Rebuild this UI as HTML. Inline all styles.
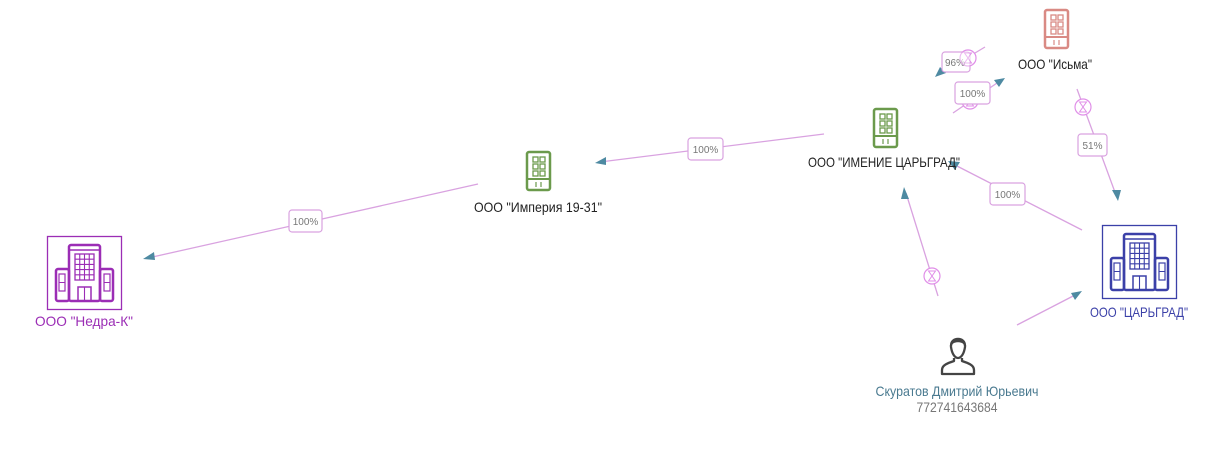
<!DOCTYPE html>
<html><head><meta charset="utf-8">
<style>
html,body{margin:0;padding:0;background:#fff;}
svg{display:block;font-family:"Liberation Sans","Noto Sans CJK SC",sans-serif;}
</style></head>
<body>
<svg width="1231" height="454" viewBox="0 0 1231 454" xmlns="http://www.w3.org/2000/svg">
<defs>
  <g id="sb">
    <rect x="1" y="1" width="23" height="38" rx="2" fill="none" stroke-width="2.5"/>
    <rect x="7" y="6" width="5" height="5" fill="none" stroke-width="1.3"/>
    <rect x="14" y="6" width="5" height="5" fill="none" stroke-width="1.3"/>
    <rect x="7" y="13" width="5" height="5" fill="none" stroke-width="1.3"/>
    <rect x="14" y="13" width="5" height="5" fill="none" stroke-width="1.3"/>
    <rect x="7" y="20" width="5" height="5" fill="none" stroke-width="1.3"/>
    <rect x="14" y="20" width="5" height="5" fill="none" stroke-width="1.3"/>
    <line x1="1" y1="28" x2="24" y2="28" stroke-width="2"/>
    <line x1="10" y1="31" x2="10" y2="36" stroke-width="1.2"/>
    <line x1="15" y1="31" x2="15" y2="36" stroke-width="1.2"/>
  </g>
  <g id="bb" fill="none">
    <rect x="0.5" y="0.5" width="74" height="73" stroke-width="1.3"/>
    <rect x="22" y="9" width="31" height="56" rx="2" stroke-width="2.5"/>
    <line x1="22" y1="14" x2="53" y2="14" stroke-width="1.5"/>
    <rect x="9" y="33" width="13" height="32" rx="2" stroke-width="2.5"/>
    <rect x="53" y="33" width="13" height="32" rx="2" stroke-width="2.5"/>
    <rect x="28" y="18" width="19" height="26" stroke-width="1.3"/>
    <line x1="32.75" y1="18" x2="32.75" y2="44" stroke-width="1.1"/>
    <line x1="37.5" y1="18" x2="37.5" y2="44" stroke-width="1.1"/>
    <line x1="42.25" y1="18" x2="42.25" y2="44" stroke-width="1.1"/>
    <line x1="28" y1="23.2" x2="47" y2="23.2" stroke-width="1.1"/>
    <line x1="28" y1="28.4" x2="47" y2="28.4" stroke-width="1.1"/>
    <line x1="28" y1="33.6" x2="47" y2="33.6" stroke-width="1.1"/>
    <line x1="28" y1="38.8" x2="47" y2="38.8" stroke-width="1.1"/>
    <rect x="31" y="51" width="13" height="14" stroke-width="1.5"/>
    <line x1="37.5" y1="51" x2="37.5" y2="65" stroke-width="1.1"/>
    <rect x="12" y="38" width="6" height="17" stroke-width="1.2"/>
    <line x1="12" y1="46.5" x2="18" y2="46.5" stroke-width="1"/>
    <rect x="57" y="38" width="6" height="17" stroke-width="1.2"/>
    <line x1="57" y1="46.5" x2="63" y2="46.5" stroke-width="1"/>
  </g>
  <g id="hg">
    <circle cx="0" cy="0" r="8" fill="#fff" stroke="#e08ee8" stroke-width="1.2"/>
    <path d="M-3.5,-5 L3.5,-5 L0,0 L3.5,5 L-3.5,5 L0,0 Z" fill="none" stroke="#e08ee8" stroke-width="1"/>
  </g>
</defs>

<g stroke="#d9a2e0" stroke-width="1.3" fill="none">
  <line x1="478" y1="184" x2="148" y2="258"/>
  <line x1="824" y1="134" x2="600" y2="162"/>
  <line x1="1082" y1="230" x2="955" y2="165"/>
  <line x1="1077" y1="89" x2="1116" y2="195"/>
  <line x1="938" y1="296" x2="906" y2="193"/>
  <line x1="1017" y1="325" x2="1077" y2="294"/>
  <line x1="985" y1="47" x2="940" y2="74"/>
  <line x1="953" y1="113" x2="1000" y2="81"/>
</g>

<g fill="#4e8aa2">
  <polygon points="143,259 154,252 155,260"/>
  <polygon points="595,163 606,157 606,165"/>
  <polygon points="948,161 960,162 955,170"/>
  <polygon points="1118,201 1112,190 1121,190"/>
  <polygon points="904,187 909,199 901,199"/>
  <polygon points="1082,291 1071,293 1075,300"/>
  <polygon points="935,77 940,67 946,73"/>
  <polygon points="1005,78 994,80 999,87"/>
</g>

<use href="#hg" x="968" y="58"/>
<use href="#hg" x="970" y="101"/>
<use href="#hg" x="1083" y="107"/>
<use href="#hg" x="932" y="276"/>

<g font-size="10" fill="#777" text-anchor="middle">
  <rect x="289" y="210" width="33" height="22" rx="3" fill="#fff" stroke="#d9a2e0" stroke-width="1.2"/>
  <text x="305.5" y="225">100%</text>
  <rect x="688" y="138" width="35" height="22" rx="3" fill="#fff" stroke="#d9a2e0" stroke-width="1.2"/>
  <text x="705.5" y="153">100%</text>
  <rect x="990" y="183" width="35" height="22" rx="3" fill="#fff" stroke="#d9a2e0" stroke-width="1.2"/>
  <text x="1007.5" y="198">100%</text>
  <rect x="1078" y="134" width="29" height="22" rx="3" fill="#fff" stroke="#d9a2e0" stroke-width="1.2"/>
  <text x="1092.5" y="149">51%</text>
  <rect x="942" y="52" width="28" height="20" rx="3" fill="#fff" stroke="#d9a2e0" stroke-width="1.2"/>
  <text x="955" y="66">96%</text>
  <rect x="955" y="82" width="35" height="22" rx="3" fill="#fff" stroke="#d9a2e0" stroke-width="1.2"/>
  <text x="972.5" y="97">100%</text>
</g>
<use href="#hg" x="968" y="58" opacity="0.6"/>

<use href="#sb" x="526" y="151" stroke="#6b9a4c"/>
<use href="#sb" x="873" y="108" stroke="#6b9a4c"/>
<use href="#sb" x="1044" y="9" stroke="#d98a84"/>
<use href="#bb" x="47" y="236" stroke="#9b2db5"/>
<use href="#bb" x="1102" y="225" stroke="#3b40a8"/>

<g fill="none" stroke="#444" stroke-width="2.3" stroke-linejoin="round">
  <path d="M951,347 C950,338 966,338 965,347 C964,354 961,358 958,358 C955,358 952,354 951,347 Z"/>
  <path d="M954,358 L954,361 C948,363 942,365 942,370 L942,374 L974,374 L974,370 C974,365 968,363 962,361 L962,358"/>
</g>
<path d="M950,346 C949,335 967,335 966,346 C962,341 954,341 950,346 Z" fill="#444"/>

<g font-size="14" text-anchor="middle">
  <text x="84" y="326" fill="#9b2db5" textLength="98" lengthAdjust="spacingAndGlyphs">ООО "Недра-К"</text>
  <text x="538" y="212" fill="#222" textLength="128" lengthAdjust="spacingAndGlyphs">ООО "Империя 19-31"</text>
  <text x="884" y="167" fill="#222" textLength="152" lengthAdjust="spacingAndGlyphs">ООО "ИМЕНИЕ ЦАРЬГРАД"</text>
  <text x="1055" y="69" fill="#222" textLength="74" lengthAdjust="spacingAndGlyphs">ООО "Исьма"</text>
  <text x="1139" y="317" fill="#3b40a8" textLength="98" lengthAdjust="spacingAndGlyphs">ООО "ЦАРЬГРАД"</text>
  <text x="957" y="396" fill="#4a7a90" textLength="163" lengthAdjust="spacingAndGlyphs">Скуратов Дмитрий Юрьевич</text>
  <text x="957" y="412" fill="#777" textLength="81" lengthAdjust="spacingAndGlyphs">772741643684</text>
</g>
</svg>
</body></html>
